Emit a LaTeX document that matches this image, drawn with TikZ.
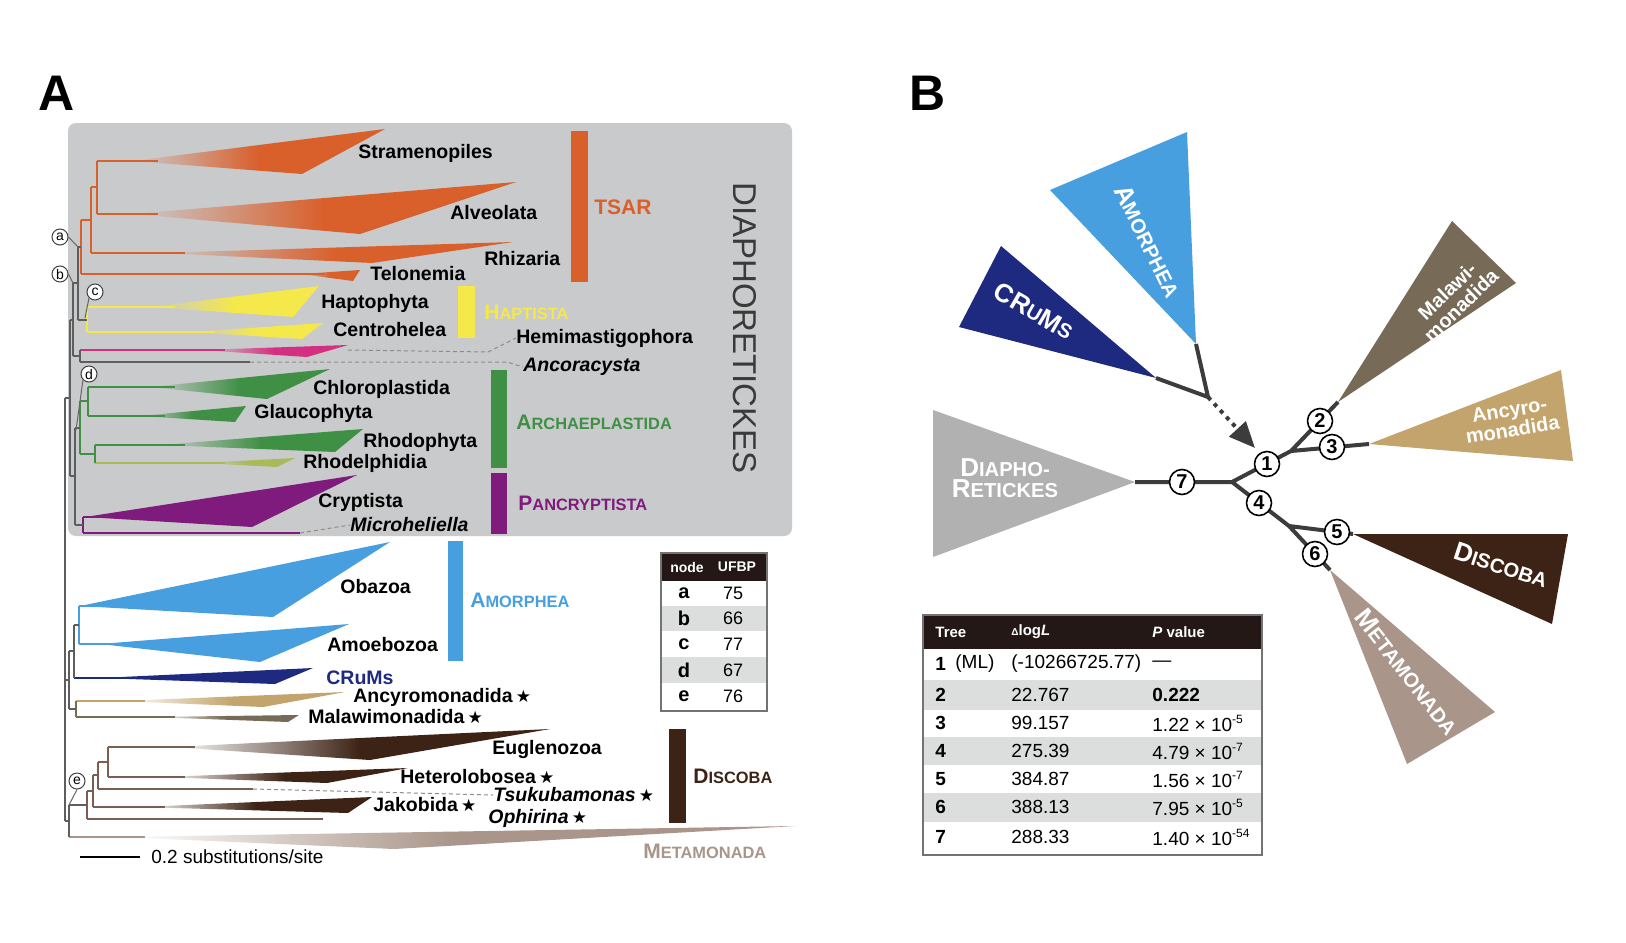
\documentclass[tikz,border=0pt]{standalone}
\usepackage{graphicx}
\usepackage{fontspec}
\setmainfont{Liberation Sans}
\newfontfamily\starfont{DejaVu Sans}
\usetikzlibrary{arrows.meta}

\definecolor{boxgray}{HTML}{C9CACB}
\definecolor{treegray}{HTML}{5E5E5E}
\definecolor{tsar}{HTML}{D95F2B}
\definecolor{hapt}{HTML}{F4E84A}
\definecolor{hemi}{HTML}{D42F80}
\definecolor{arch}{HTML}{3F8F45}
\definecolor{rhdl}{HTML}{A9BB58}
\definecolor{panc}{HTML}{7F1B7D}
\definecolor{amor}{HTML}{479FE0}
\definecolor{crum}{HTML}{1E2A80}
\definecolor{ancy}{HTML}{C3A46C}
\definecolor{malw}{HTML}{776B58}
\definecolor{disc}{HTML}{3D2315}
\definecolor{discl}{HTML}{7A5E52}
\definecolor{meta}{HTML}{A99589}
\definecolor{diaphB}{HTML}{B1B1B1}
\definecolor{diagray}{HTML}{3A3A3A}
\definecolor{hdr}{HTML}{231815}
\definecolor{rowgray}{HTML}{DCDDDD}
\definecolor{limbgray}{HTML}{3C3C3C}

\newcommand\fsz[1]{\fontsize{#1}{#1}\selectfont}
\newcommand\smc[3][8.2]{#2{\fsz{#1}#3}}
\newcommand\stm{\,{\starfont\fsz{8.5}★}}
\newcommand\pv[2]{#1 × 10\raisebox{0.8ex}{\fsz{6}#2}}

\begin{document}
\begin{tikzpicture}[x=0.5pt,y=-0.5pt,
  every node/.style={inner sep=0pt},
  taxon/.style={anchor=west,font=\fsz{9.75}\bfseries},
  taxit/.style={anchor=west,font=\fsz{9.75}\bfseries\itshape},
  grp/.style={anchor=west,font=\fsz{10.5}\bfseries},
  br/.style={line width=0.8pt},
  lead/.style={draw=black!60,line width=0.5pt},
  leaderdash/.style={draw=black!45,line width=0.5pt,dash pattern=on 2pt off 1.5pt},
  ufbp/.style={circle,draw=black!75,fill=white,line width=0.5pt,minimum size=8pt,font=\fsz{7}},
  num/.style={circle,draw=black,fill=white,line width=0.8pt,minimum size=12.5pt,font=\fsz{10}\bfseries},
  limb/.style={draw=limbgray,line width=2pt},
  bclade/.style={text=white,font=\fsz{13}\bfseries,align=center},
  cell/.style={anchor=west,font=\fsz{9.5}},
]
\useasboundingbox (0,0) rectangle (1626,942);
\fill[white] (0,0) rectangle (1626,942);

% panel letters
\node[font=\fsz{25}\bfseries] (pA) at (57,93) {A};
\node[font=\fsz{25}\bfseries] (pB) at (928,93) {B};

% ---------------- panel A ----------------
\fill[boxgray, rounded corners=4pt] (68,123) rectangle (792,536);

% clades: colour / branch colour / fade colour / branch x / apex / top / bottom
\foreach \cl/\lc/\bg/\lx/\ax/\ay/\tx/\ty/\bx/\by in {
  tsar/tsar/boxgray/97/133/161/385/129/302/174,
  tsar/tsar/boxgray/97/133/214/516/182/360/234,
  tsar/tsar/boxgray/91/160/253/513/242/372/263,
  tsar/tsar/boxgray/81/300/274/360/270/353/281,
  hapt/hapt/boxgray/87/150/307/319/286/293/317,
  hapt/hapt/boxgray/87/190/332/323/323/302/339,
  hemi/hemi/boxgray/80/200/350/348/345/307/357,
  arch/arch/boxgray/88/150/387/330/369/267/399,
  arch/arch/boxgray/88/140/416/246/406/235/422,
  arch/arch/boxgray/95/160/445/363/429/335/452,
  rhdl/rhdl/boxgray/95/200/463/295/458/277/467,
  panc/panc/panc/83/85/517/357/475/252/527,
  amor/amor/amor/79/80/606/390/542/273/617,
  amor/amor/amor/79/100/644/349/624/260/662,
  crum/crum/crum/74/100/678/313/668/275/684,
  ancy/ancy/white/76/120/701/345/692/263/707,
  malw/malw/white/76/150/717/299/715/288/722,
  disc/discl/white/108/170/747/550/729/370/760,
  disc/discl/white/108/160/777/408/768/327/783,
  disc/discl/white/93/140/807/372/797/348/813,
  meta/meta/white/69/120/837/795/826/394/849}
{
  \shade[left color=\bg,right color=\cl,middle color=\cl] (\ax,\ay) -- (\tx,\ty) -- (\bx,\by) -- cycle;
  \draw[br,\lc] (\lx,\ay) -- (\ax+25,\ay);
}

% single branches
\draw[br,treegray] (80,362) -- (250,362);
\draw[br,panc] (83,533) -- (300,533);
\draw[br,discl] (98,789) -- (253,789);
\draw[br,discl] (87,819) -- (323,819);

% coloured inner nodes
\draw[br,tsar] (97,161) -- (97,214) (91,187) -- (97,187) (91,187) -- (91,253)
  (81,220) -- (91,220) (81,220) -- (81,274);
\draw[br,hapt] (87,307) -- (87,332);
\draw[br,arch] (88,387) -- (88,416) (80,401) -- (88,401) (80,401) -- (80,454)
  (80,454) -- (95,454) (95,445) -- (95,463);
\draw[br,panc] (83,517) -- (83,533);
\draw[br,amor] (79,606) -- (79,644);
\draw[br,malw] (76,701) -- (76,717);
\draw[br,discl] (108,747) -- (108,777) (98,762) -- (108,762) (98,762) -- (98,789)
  (93,775) -- (98,775) (93,775) -- (93,807) (87,791) -- (93,791) (87,791) -- (87,819);

% backbone
\draw[br,treegray] (78,247) -- (81,247) (78,247) -- (78,320) (78,320) -- (87,320)
  (73,283) -- (78,283) (73,283) -- (73,356) (73,356) -- (80,356) (80,350) -- (80,362)
  (75,428) -- (80,428) (75,428) -- (75,525) (75,525) -- (83,525)
  (70,320) -- (73,320) (70,476) -- (75,476) (70,320) -- (70,476) (65,398) -- (70,398)
  (74,625) -- (79,625) (74,625) -- (74,678) (69,651) -- (74,651) (69,651) -- (69,709)
  (69,709) -- (76,709) (65,680) -- (69,680)
  (69,805) -- (87,805) (69,805) -- (69,837) (65,821) -- (69,821);
\draw[line width=1.3pt,treegray] (65,398) -- (65,821);

% node letters
\node[ufbp] (ca) at (60,237) {a};
\node[ufbp] (cb) at (60,274) {b};
\node[ufbp] (cc) at (95,292) {c};
\node[ufbp] (cd) at (89,374) {d};
\node[ufbp] (ce) at (77,781) {e};
\coordinate (na) at (78,247);
\coordinate (nb) at (73,283);
\coordinate (nc) at (85,318);
\coordinate (nd) at (76,430);
\coordinate (ne) at (69,805);
\draw[lead] (ca.east) -- (na);
\draw[lead] (cb.east) -- (nb);
\draw[lead] (cc.south west) -- (nc);
\draw[lead] (cd.south west) -- (nd);
\draw[lead] (ce.south) -- (ne);

% labels
\foreach \n/\x/\y/\t in {
  stra/358/153/Stramenopiles, alve/450/213/Alveolata, rhiz/484/259/Rhizaria,
  telo/370/274/Telonemia, hapt/321/303/Haptophyta, cent/333/330/Centrohelea,
  hemi/516/338/Hemimastigophora, chlo/313/389/Chloroplastida,
  glau/254/413/Glaucophyta, rhop/363/442/Rhodophyta, rhdl/303/463/Rhodelphidia,
  cryp/318/502/Cryptista, obaz/340/587/Obazoa, amoe/327/645/Amoebozoa,
  eugl/492/749/Euglenozoa}
  \node[taxon] (l\n) at (\x,\y) {\t};
\node[taxit] (lanco) at (523,367) {Ancoracysta};
\node[taxit] (lmicr) at (350,525) {Microheliella};
\node[taxon,text=crum] (lcrum) at (326,678) {CRuMs};
\node[taxon] (lancy) at (353,697) {Ancyromonadida\stm};
\node[taxon] (lmalw) at (308,717) {Malawimonadida\stm};
\node[taxon] (lhete) at (400,777) {Heterolobosea\stm};
\node[taxit] (ltsuk) at (493,795) {Tsukubamonas\stm};
\node[taxon] (ljako) at (373,805) {Jakobida\stm};
\node[taxit] (lophi) at (488,818) {Ophirina\stm};

% dashed leaders
\draw[leaderdash] (348,350) -- (488,352) -- (lhemi.west);
\draw[leaderdash] (250,362) -- (507,362) -- (lanco.west);
\draw[leaderdash] (300,533) -- (lmicr.west);
\draw[leaderdash] (253,789) -- (ltsuk.west);

% group bars
\fill[tsar] (571,131) rectangle (588,282);
\fill[hapt] (458,286) rectangle (475,338);
\fill[arch] (491,370) rectangle (507,468);
\fill[panc] (491,473) rectangle (507,534);
\fill[amor] (448,541) rectangle (463,661);
\fill[disc] (669,729) rectangle (686,823);
\node[grp,text=tsar] (gtsar) at (594,207) {TSAR};
\node[grp,text=hapt] (ghapt) at (484,312) {\smc{H}{APTISTA}};
\node[grp,text=arch] (garch) at (516,422) {\smc{A}{RCHAEPLASTIDA}};
\node[grp,text=panc] (gpanc) at (518,503) {\smc{P}{ANCRYPTISTA}};
\node[grp,text=amor] (gamor) at (470,600) {\smc{A}{MORPHEA}};
\node[grp,text=disc] (gdisc) at (693,776) {\smc{D}{ISCOBA}};
\node[grp,text=meta] (gmeta) at (643,851) {\smc{M}{ETAMONADA}};
\node[rotate=-90,font=\fsz{16.5},text=diagray] (gdiaph) at (745,328) {DIAPHORETICKES};

% scale bar
\coordinate (sb0) at (80,857);
\coordinate (sb1) at (140,857);
\draw[line width=0.6pt] (sb0) -- (sb1);
\node[anchor=west,font=\fsz{9.5}] (sbt) at (151,857) {0.2 substitutions/site};

% UFBP table
\fill[hdr] (661,553) rectangle (767,581);
\fill[rowgray] (661,606) rectangle (767,631);
\fill[rowgray] (661,657) rectangle (767,683);
\draw[black!55,line width=0.6pt] (661,553) rectangle (767,711);
\node[text=white,font=\fsz{7}\bfseries] (uh1) at (687,567) {node};
\node[text=white,font=\fsz{7}\bfseries] (uh2) at (737,567) {UFBP};
\foreach \l/\v/\y in {a/75/593,b/66/618,c/77/644,d/67/670,e/76/696} {
  \node[font=\fsz{10}\bfseries] (ul\l) at (684,\y) {\l};
  \node[font=\fsz{9}] (uv\l) at (733,\y) {\v};
}

% ---------------- panel B ----------------
\coordinate (aDia) at (1135,482);
\coordinate (aAmo) at (1196,344);
\coordinate (aCru) at (1156,378);
\coordinate (aMal) at (1338,402);
\coordinate (aAnc) at (1369,444);
\coordinate (aDis) at (1353,534);
\coordinate (aMet) at (1330,570);
\coordinate (jR) at (1232,482);
\coordinate (jU) at (1291,451);
\coordinate (jL) at (1289,526);
\coordinate (jA) at (1208,397);
\coordinate (tip) at (1255,448);
\coordinate (p1) at (1267,464);
\coordinate (p2) at (1320,421);
\coordinate (p3) at (1332,447);
\coordinate (p4) at (1259,503);
\coordinate (p5) at (1337,532);
\coordinate (p6) at (1315,554);
\coordinate (p7) at (1182,482);

\fill[diaphB] (aDia) -- (933,410) -- (933,557) -- cycle;
\fill[amor] (aAmo) -- (1050,190) -- (1187,132) -- cycle;
\fill[crum] (aCru) -- (959,327) -- (1001,246) -- cycle;
\fill[malw] (aMal) -- (1452,221) -- (1516,283) -- cycle;
\fill[ancy] (aAnc) -- (1561,370) -- (1573,461) -- cycle;
\fill[disc] (aDis) -- (1568,534) -- (1552,624) -- cycle;
\fill[meta] (aMet) -- (1495,712) -- (1407,764) -- cycle;

\draw[limb] (aDia) -- (jR) (jR) -- (jU) (jU) -- (aMal) (jU) -- (aAnc)
  (jR) -- (jL) (jL) -- (aDis) (jL) -- (aMet) (aAmo) -- (jA) (aCru) -- (jA);
\draw[limb,dash pattern=on 2pt off 2.5pt,-{Triangle[length=13pt,width=11pt]}] (jA) -- (tip);

\foreach \i in {1,...,7}
  \node[num] (n\i) at (p\i) {\i};

\node[bclade,rotate=-64] (tAmo) at (1148,241) {\smc[10.1]{A}{MORPHEA}};
\node[bclade,rotate=-30] (tCru) at (1034,311) {CR{\fsz{10.1}U}M{\fsz{10.1}S}};
\node[bclade] (tDia) at (1005,478) {\smc[10.1]{D}{IAPHO-}\\[-2.5pt]\smc[10.1]{R}{ETICKES}};
\node[bclade,font=\fsz{10}\bfseries,rotate=44] (tMal) at (1454,298) {Malawi-\\monadida};
\node[bclade,font=\fsz{10}\bfseries,rotate=9] (tAnc) at (1511,420) {Ancyro-\\monadida};
\node[bclade,rotate=-18] (tDis) at (1501,565) {\smc[10.1]{D}{ISCOBA}};
\node[bclade,rotate=-52] (tMet) at (1407,672) {\smc[10.1]{M}{ETAMONADA}};

% AU test table
\fill[hdr] (923,615) rectangle (1262,649);
\fill[rowgray] (923,680) rectangle (1262,710);
\fill[rowgray] (923,737) rectangle (1262,765);
\fill[rowgray] (923,793) rectangle (1262,822);
\draw[black!55,line width=0.6pt] (923,615) rectangle (1262,855);
\node[anchor=west,text=white,font=\fsz{7.5}\bfseries] (hTree) at (935,632) {Tree};
\node[anchor=west,text=white,font=\fsz{7.5}\bfseries] (hLog) at (1011,632) {{\fsz{5}Δ}log\textit{L}};
\node[anchor=west,text=white,font=\fsz{7.5}\bfseries] (hP) at (1152,632) {\textit{P} value};
\node[cell,font=\fsz{9.5}\bfseries] (r1t) at (935,664) {1};
\node[cell] (r1m) at (955,664) {(ML)};
\node[cell] (r1d) at (1011,664) {(-10266725.77)};
\node[cell] (r1p) at (1152,664) {—};
\node[cell,font=\fsz{9.5}\bfseries] (r2t) at (935,695) {2};
\node[cell] (r2d) at (1011,695) {22.767};
\node[cell,font=\fsz{9.5}\bfseries] (r2p) at (1152,695) {0.222};
\foreach \t/\d/\a/\e/\y in {3/99.157/1.22/-5/723, 4/275.39/4.79/-7/751,
  5/384.87/1.56/-7/779, 6/388.13/7.95/-5/807, 7/288.33/1.40/-54/837} {
  \node[cell,font=\fsz{9.5}\bfseries] (r\t t) at (935,\y) {\t};
  \node[cell] (r\t d) at (1011,\y) {\d};
  \node[cell] (r\t p) at (1152,\y) {\pv{\a}{\e}};
}
\end{tikzpicture}
\end{document}
